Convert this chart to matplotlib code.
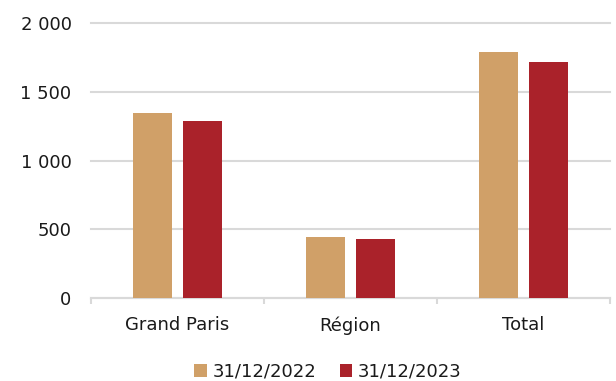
import matplotlib.pyplot as plt
import numpy as np
from matplotlib.ticker import FuncFormatter, FixedLocator

categories = ['Grand Paris', 'Région', 'Total']
labels = ['31/12/2022', '31/12/2023']
values_2022 = [1346, 442, 1790]
values_2023 = [1290, 427, 1718]

colors = ['#D0A068', '#AA222A']
grid_color = '#D9D9D9'

plt.rcParams['font.family'] = ['DejaVu Sans']

fig = plt.figure(figsize=(6.16, 3.81), dpi=100)
ax = fig.add_axes([91 / 616, 1 - 298 / 381, (610 - 91) / 616, (298 - 23) / 381])

x = np.arange(len(categories))
width = 0.225
offset = 0.142
ax.bar(x - offset, values_2022, width, color=colors[0], label=labels[0], zorder=3)
ax.bar(x + offset, values_2023, width, color=colors[1], label=labels[1], zorder=3)

ax.set_xlim(-0.5, len(categories) - 0.5)
ax.set_ylim(0, 2000)
ax.set_yticks([0, 500, 1000, 1500, 2000])
ax.yaxis.set_major_formatter(FuncFormatter(lambda v, p: f'{int(v):,}'.replace(',', ' ')))
ax.grid(axis='y', color=grid_color, linewidth=1.5, zorder=0)
# keep the top gridline at full width
for line in ax.get_ygridlines():
    line.set_clip_on(False)

ax.set_xticks(x)
ax.set_xticklabels(categories)
ax.xaxis.set_minor_locator(FixedLocator(np.arange(-0.5, len(categories), 1.0)))
ax.tick_params(axis='x', which='major', length=0, pad=13, labelsize=13, colors='#1a1a1a')
ax.tick_params(axis='x', which='minor', length=4, width=1.5, color=grid_color)
ax.tick_params(axis='y', length=0, pad=14, labelsize=13, colors='#1a1a1a')

for side in ['top', 'right', 'left']:
    ax.spines[side].set_visible(False)
ax.spines['bottom'].set_color(grid_color)
ax.spines['bottom'].set_linewidth(1.5)

fig.legend(loc='center', bbox_to_anchor=(328 / 616, 1 - 372 / 381), ncol=2, frameon=False,
           fontsize=13, handlelength=0.7, handleheight=0.7, handletextpad=0.3,
           columnspacing=1.3, labelcolor='#1a1a1a')

fig.savefig('out.png', dpi=100)
